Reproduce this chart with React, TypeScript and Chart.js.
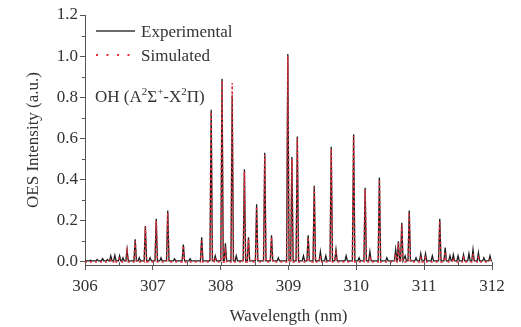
import React, { useEffect, useRef } from 'react';
import { Chart, registerables } from 'chart.js';

Chart.register(...registerables);

// Line positions (nm)
const peakWavelengths = [
  306.08, 306.18, 306.26, 306.33, 306.38, 306.44, 306.51, 306.56, 306.62, 306.74,
  306.80, 306.89, 306.96, 307.05, 307.12, 307.22, 307.32, 307.45, 307.55, 307.72,
  307.86, 307.92, 308.02, 308.07, 308.17, 308.23, 308.35, 308.41, 308.53, 308.65,
  308.75, 308.85, 308.99, 309.05, 309.13, 309.22, 309.29, 309.38, 309.47, 309.55,
  309.63, 309.70, 309.85, 309.96, 310.04, 310.13, 310.20, 310.34, 310.45, 310.58,
  310.62, 310.67, 310.72, 310.78, 310.88, 310.95, 311.02, 311.12, 311.23, 311.31,
  311.38, 311.43, 311.50, 311.58, 311.66, 311.72, 311.80, 311.88, 311.97,
];

// Experimental peak intensities (a.u.)
const experimentalPeaks = [
  0.008, 0.012, 0.016, 0.012, 0.030, 0.032, 0.030, 0.020, 0.060, 0.110,
  0.020, 0.175, 0.020, 0.210, 0.020, 0.250, 0.015, 0.085, 0.015, 0.120,
  0.740, 0.030, 0.890, 0.090, 0.810, 0.030, 0.450, 0.120, 0.280, 0.530,
  0.130, 0.020, 1.010, 0.510, 0.610, 0.030, 0.130, 0.370, 0.050, 0.030,
  0.560, 0.060, 0.030, 0.620, 0.020, 0.360, 0.050, 0.410, 0.020, 0.060,
  0.100, 0.190, 0.030, 0.250, 0.020, 0.040, 0.040, 0.030, 0.210, 0.070,
  0.030, 0.035, 0.030, 0.035, 0.040, 0.060, 0.045, 0.020, 0.030,
];

// Simulated peak intensities (a.u.)
const simulatedPeaks = [
  0.000, 0.000, 0.000, 0.000, 0.010, 0.010, 0.015, 0.000, 0.050, 0.100,
  0.000, 0.170, 0.000, 0.200, 0.000, 0.240, 0.000, 0.080, 0.000, 0.110,
  0.730, 0.020, 0.880, 0.050, 0.870, 0.000, 0.440, 0.110, 0.270, 0.520,
  0.120, 0.000, 1.000, 0.500, 0.600, 0.000, 0.120, 0.360, 0.030, 0.000,
  0.550, 0.040, 0.000, 0.610, 0.000, 0.350, 0.030, 0.400, 0.000, 0.040,
  0.090, 0.180, 0.000, 0.240, 0.000, 0.020, 0.020, 0.000, 0.200, 0.050,
  0.000, 0.020, 0.000, 0.020, 0.000, 0.040, 0.020, 0.000, 0.010,
];

const experimentalBaseline = 0.005;
const simulatedBaseline = 0.0;

const xTickValues = [306, 307, 308, 309, 310, 311, 312];
const xTickLabels = ['306', '307', '308', '309', '310', '311', '312'];
const yTickValues = [0, 0.2, 0.4, 0.6, 0.8, 1.0, 1.2];
const yTickLabels = ['0.0', '0.2', '0.4', '0.6', '0.8', '1.0', '1.2'];
const xMinorTicks = [306.5, 307.5, 308.5, 309.5, 310.5, 311.5];
const yMinorTicks = [0.1, 0.3, 0.5, 0.7, 0.9, 1.1];

const legendLabels = ['Experimental', 'Simulated'];
const xTitle = 'Wavelength (nm)';
const yTitle = 'OES Intensity (a.u.)';
// annotation: [text, isSuperscript]
const annotationParts: [string, boolean][] = [
  ['OH (A', false], ['2', true], ['Σ', false], ['+', true],
  ['-X', false], ['2', true], ['Π)', false],
];

const FONT = "'Liberation Serif', 'Times New Roman', serif";
const EXP_COLOR = '#1c1c1c';
const SIM_COLOR = '#e3303c';
const AXIS_COLOR = '#555555';
const TEXT_COLOR = '#333333';
const HALF_WIDTH = 0.018;

function buildLine(peaks: number[], base: number) {
  const pts: { x: number; y: number }[] = [{ x: 306.0, y: base }];
  peakWavelengths.forEach((w, i) => {
    pts.push({ x: w - HALF_WIDTH, y: base });
    pts.push({ x: w, y: Math.max(peaks[i], base) });
    pts.push({ x: w + HALF_WIDTH, y: base });
  });
  pts.push({ x: 312.0, y: base });
  return pts;
}

const overlayPlugin = {
  id: 'overlay',
  afterDraw(chart: any) {
    const { ctx, scales } = chart;
    const xs = scales.x;
    const ys = scales.y;
    const axisY = chart.chartArea.bottom;
    const axisX = chart.chartArea.left;
    ctx.save();
    ctx.strokeStyle = AXIS_COLOR;
    ctx.lineWidth = 1;
    ctx.beginPath();
    xMinorTicks.forEach((v) => {
      const px = Math.round(xs.getPixelForValue(v)) + 0.5;
      ctx.moveTo(px, axisY);
      ctx.lineTo(px, axisY - 3);
    });
    xTickValues.forEach((v) => {
      const px = Math.round(xs.getPixelForValue(v)) + 0.5;
      ctx.moveTo(px, axisY);
      ctx.lineTo(px, axisY - 3);
    });
    yMinorTicks.forEach((v) => {
      const py = Math.round(ys.getPixelForValue(v)) + 0.5;
      ctx.moveTo(axisX, py);
      ctx.lineTo(axisX - 3, py);
    });
    ctx.stroke();

    // legend
    ctx.font = `17px ${FONT}`;
    ctx.fillStyle = TEXT_COLOR;
    ctx.textBaseline = 'alphabetic';
    ctx.textAlign = 'left';
    ctx.strokeStyle = '#6a6a6a';
    ctx.lineWidth = 2;
    ctx.beginPath();
    ctx.moveTo(96, 31);
    ctx.lineTo(135, 31);
    ctx.stroke();
    ctx.fillText(legendLabels[0], 141, 37);

    ctx.strokeStyle = SIM_COLOR;
    ctx.lineWidth = 2;
    ctx.setLineDash([2, 8.5]);
    ctx.beginPath();
    ctx.moveTo(96, 55);
    ctx.lineTo(135, 55);
    ctx.stroke();
    ctx.setLineDash([]);
    ctx.fillText(legendLabels[1], 141, 61);

    // annotation
    let x = 95;
    const baseY = 102;
    annotationParts.forEach(([t, sup]) => {
      ctx.font = sup ? `11px ${FONT}` : `17px ${FONT}`;
      ctx.fillText(t, x, sup ? baseY - 7 : baseY);
      x += ctx.measureText(t).width;
    });
    ctx.restore();
  },
};

export default function App() {
  const ref = useRef<HTMLCanvasElement>(null);
  useEffect(() => {
    document.body.style.margin = '0';
    const canvas = ref.current;
    if (!canvas) return;
    const chart = new Chart(canvas, {
      type: 'line',
      data: {
        datasets: [
          {
            label: legendLabels[1],
            data: buildLine(simulatedPeaks, simulatedBaseline),
            borderColor: SIM_COLOR,
            borderWidth: 1.6,
            borderDash: [2, 3],
            pointRadius: 0,
            fill: false,
            tension: 0,
          },
          {
            label: legendLabels[0],
            data: buildLine(experimentalPeaks, experimentalBaseline),
            borderColor: EXP_COLOR,
            borderWidth: 1.3,
            pointRadius: 0,
            fill: false,
            tension: 0,
          },
        ],
      },
      options: {
        responsive: false,
        animation: false,
        events: [],
        layout: { padding: { top: 15, right: 29, left: 0, bottom: 0 } },
        plugins: { legend: { display: false }, tooltip: { enabled: false } },
        scales: {
          x: {
            type: 'linear',
            min: 306,
            max: 312,
            afterBuildTicks: (s: any) => {
              s.ticks = xTickValues.map((v) => ({ value: v }));
            },
            afterFit: (s: any) => {
              s.height = 62;
            },
            ticks: {
              callback: (v: any) => xTickLabels[xTickValues.indexOf(Number(v))] ?? '',
              font: { family: FONT, size: 17 },
              color: TEXT_COLOR,
              padding: 6,
              maxRotation: 0,
            },
            grid: { drawOnChartArea: false, drawTicks: true, tickLength: 5, color: AXIS_COLOR },
            border: { display: true, color: AXIS_COLOR, width: 1 },
            title: {
              display: true,
              text: xTitle,
              font: { family: FONT, size: 17 },
              color: TEXT_COLOR,
              padding: { top: 0, bottom: 0 },
            },
          },
          y: {
            type: 'linear',
            min: -0.015,
            max: 1.2,
            afterBuildTicks: (s: any) => {
              s.ticks = yTickValues.map((v) => ({ value: v }));
            },
            afterFit: (s: any) => {
              s.width = 85;
            },
            ticks: {
              callback: (v: any) => {
                const i = yTickValues.findIndex((t) => Math.abs(t - Number(v)) < 1e-9);
                return i >= 0 ? yTickLabels[i] : '';
              },
              font: { family: FONT, size: 17 },
              color: TEXT_COLOR,
              padding: 2,
            },
            grid: { drawOnChartArea: false, drawTicks: true, tickLength: 5, color: AXIS_COLOR },
            border: { display: true, color: AXIS_COLOR, width: 1 },
            title: {
              display: true,
              text: yTitle,
              font: { family: FONT, size: 17 },
              color: TEXT_COLOR,
              padding: { top: 23, bottom: 0 },
            },
          },
        },
      },
      plugins: [overlayPlugin],
    });
    return () => chart.destroy();
  }, []);
  return (
    <div style={{ width: 521, height: 327 }}>
      <canvas ref={ref} width={521} height={327} style={{ display: 'block' }} />
    </div>
  );
}
